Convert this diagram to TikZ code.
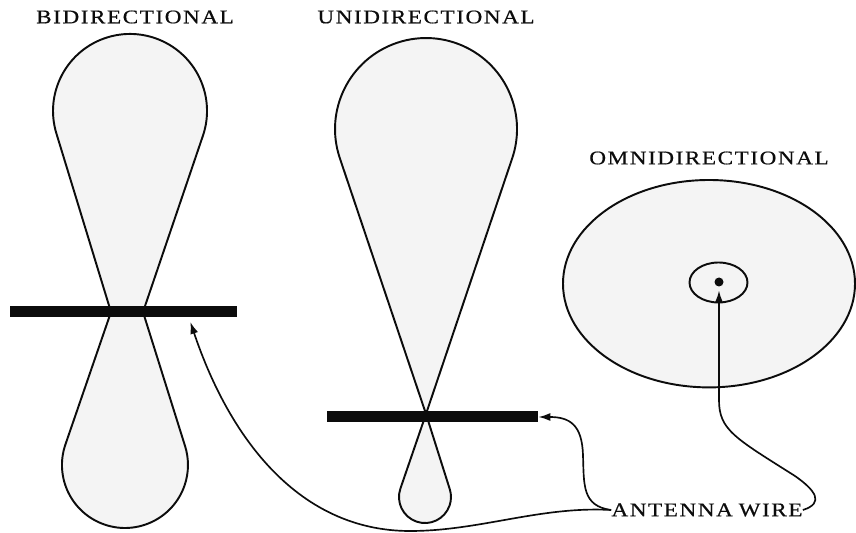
\documentclass[tikz,border=0pt]{standalone}
\usepackage{fontspec}
\usepackage{tikz}
\usetikzlibrary{arrows.meta,calc}
\newfontfamily\capsfont[FakeStretch=1.2,LetterSpace=8,FakeBold=0.5]{Liberation Serif}
\definecolor{inkblack}{RGB}{12,12,12}
\definecolor{lobefill}{RGB}{244,244,244}
\tikzset{
  lobe/.style={draw=inkblack, fill=lobefill, line width=1.1pt, line join=round},
  wirebar/.style={rectangle, fill=inkblack, inner sep=0pt, minimum height=0.22cm},
  caption/.style={font=\capsfont\fontsize{11}{13}\selectfont, inner sep=0pt, text=inkblack},
  lead/.style={-{Latex[length=2.4mm,width=1.6mm]}, line width=0.95pt, draw=inkblack},
}

\begin{document}
\begin{tikzpicture}[x=0.02cm, y=-0.02cm]
    \useasboundingbox (0,0) rectangle (856,533);
    \draw[lobe] (111,312) -- (56.4,133.5) arc[start angle=162.98, end angle=378.78, radius=77] -- (143,312) -- cycle;
    \draw[lobe] (111,312) -- (65.4,444.5) arc[start angle=198.97, end angle=-17.42, radius=63] -- (143,312) -- cycle;
    \draw[lobe] (426,414) -- (339.8,158.1) arc[start angle=161.38, end angle=378.62, radius=91] -- cycle;
    \draw[lobe] (426,414) -- (400.4,488.6) arc[start angle=198.95, end angle=-17.55, radius=26] -- cycle;
    \draw[lobe] (709,283.7) circle[x radius=146, y radius=103.7];
    \draw[lobe] (718.5,282.5) circle[x radius=29, y radius=20];
    \node[circle, fill=inkblack, inner sep=0pt, minimum size=0.18cm] (dot) at (719,282) {};
    \node[wirebar, minimum width=4.54cm] (bar1) at (123.5,312) {};
    \node[wirebar, minimum width=4.22cm] (bar2) at (432.5,417) {};
    \node[caption] (bilabel) at (135,17) {BIDIRECTIONAL};
    \node[caption] (unilabel) at (426,17) {UNIDIRECTIONAL};
    \node[caption] (omnilabel) at (709,158) {OMNIDIRECTIONAL};
    \node[caption] (wire) at (707,510) {ANTENNA\hspace{0.3em}WIRE};
    \draw[lead] (wire.west) .. controls (540,506) and (480,531) .. (410,531) .. controls (300,531) and (230,440) .. ($(bar1.south east)+(-47,4)$);
    \draw[lead] (wire.west) .. controls (582,506) and (584,485) .. (583,455) .. controls (582,425) and (570,417) .. (bar2.east);
    \draw[lead, shorten >=2pt] (wire.east) .. controls (825,503) and (815,490) .. (795,476) .. controls (735,438) and (719,430) .. (719,400) -- (dot.south);
  \end{tikzpicture}
\end{document}
